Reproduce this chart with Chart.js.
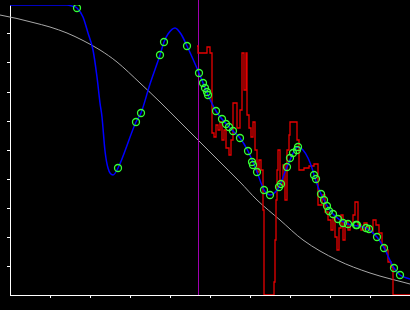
<!DOCTYPE html>
<html>
<head>
<meta charset="utf-8">
<title>Signal fit</title>
<script src="https://cdn.jsdelivr.net/npm/chart.js@4/dist/chart.umd.min.js"></script>
<style>
    html, body { margin: 0; padding: 0; background: #000; }
    #fitChart { display: block; background: #000; }
</style>
</head>
<body>
<canvas id="fitChart" width="410" height="310"></canvas>
<script>
/**
 * 数据
 */

// 拟合曲线（蓝色）
const fitX = [0, 1.425, 1.55, 1.675, 1.825, 1.95, 2.075, 2.175, 2.25, 2.3, 2.375, 2.45, 2.575, 2.7,
    3.15, 3.275, 3.5, 3.75, 3.85, 3.95, 4.125, 4.275, 4.425, 4.725, 4.95, 5.15, 5.575, 5.75, 5.95,
    6.175, 6.35, 6.5, 6.725, 6.925, 7.2, 7.325, 7.45, 7.55, 7.6, 7.775, 8.075, 8.45, 8.9, 9.175,
    9.35, 9.6, 9.75, 10];
const fitY = [10, 10, 9.966, 9.897, 9.586, 9.034, 8.448, 7.517, 6.621, 6.138, 4.966, 4.379, 4.138, 4.379,
    5.966, 6.276, 7.276, 8.276, 8.724, 9.0, 9.207, 9.0, 8.586, 7.655, 6.897, 6.345, 5.655, 5.414, 4.966,
    4.241, 3.621, 3.448, 3.724, 4.414, 5.103, 5.0, 4.724, 4.379, 4.138, 3.483, 2.793, 2.448, 2.310, 2.0,
    1.621, 0.931, 0.690, 0.552];

// 采样点（绿色圆圈）
const sampleX = [1.675, 2.7, 3.15, 3.275, 3.75, 3.85, 4.425, 4.725, 4.825, 4.875, 4.925, 4.95, 5.15,
    5.3, 5.4, 5.475, 5.575, 5.75, 5.95, 6.05, 6.075, 6.175, 6.35, 6.5, 6.725, 6.775, 6.925, 7.0, 7.075,
    7.175, 7.2, 7.6, 7.65, 7.775, 7.85, 7.925, 7.975, 8.075, 8.2, 8.325, 8.45, 8.65, 8.675, 8.9, 8.975,
    9.175, 9.35, 9.6, 9.75];
const sampleY = [9.897, 4.379, 5.966, 6.276, 8.276, 8.724, 8.586, 7.655, 7.31, 7.138, 7.0, 6.897, 6.345,
    6.069, 5.897, 5.793, 5.655, 5.414, 4.966, 4.586, 4.483, 4.241, 3.621, 3.448, 3.724, 3.828, 4.414, 4.724,
    4.897, 5.0, 5.103, 4.138, 4.0, 3.483, 3.276, 3.069, 2.897, 2.793, 2.621, 2.483, 2.448, 2.414, 2.414,
    2.31, 2.276, 2.0, 1.621, 0.931, 0.69];

// 测量信号（红色阶梯）
const signalX = [4.675, 4.7, 4.925, 5.0, 5.05, 5.1, 5.15, 5.2, 5.25, 5.3, 5.35, 5.4, 5.475, 5.525, 5.575,
    5.675, 5.75, 5.8, 5.85, 5.9, 5.925, 5.975, 6.025, 6.075, 6.125, 6.175, 6.225, 6.275, 6.325, 6.35,
    6.6, 6.625, 6.65, 6.675, 6.7, 6.75, 6.825, 6.875, 6.925, 6.975, 7.0, 7.175, 7.225, 7.35, 7.475, 7.6,
    7.7, 7.8, 7.875, 7.95, 8.025, 8.075, 8.125, 8.175, 8.225, 8.275, 8.325, 8.375, 8.45, 8.5, 8.575,
    8.625, 8.7, 8.775, 8.85, 8.925, 9.0, 9.075, 9.15, 9.225, 9.3, 9.375, 9.45, 9.525, 9.575, 10];
const signalY = [8.586, 8.345, 8.552, 8.345, 5.586, 5.448, 5.862, 5.69, 5.966, 5.345, 5.69, 5.069, 4.828,
    5.345, 6.621, 5.759, 6.379, 8.345, 7.069, 8.345, 6.207, 5.759, 5.448, 5.966, 5.0, 4.241, 4.655, 4.31,
    2.931, 0, 0.448, 1.897, 3.276, 4.31, 5.0, 3.793, 4.483, 3.276, 5.0, 5.517, 5.966, 5.345, 4.31, 4.379,
    4.448, 4.517, 3.103, 3.448, 2.862, 2.586, 2.241, 2.655, 2.0, 1.552, 2.31, 2.759, 1.897, 2.517, 2.241,
    2.414, 2.759, 3.207, 2.414, 2.241, 2.483, 2.31, 2.172, 2.586, 2.414, 2.138, 1.724, 1.552, 1.138, 0.966,
    0, 0];

// 参考曲线（灰色）
const refX = [-0.25, 0.175, 0.575, 1.0, 1.425, 1.825, 2.25, 2.675, 3.25, 3.75, 4.25, 4.7, 5.25, 5.75,
    6.175, 6.75, 7.325, 8.175, 9.0, 10];
const refY = [9.655, 9.534, 9.397, 9.241, 9.034, 8.776, 8.448, 8.034, 7.31, 6.655, 5.966, 5.345, 4.586,
    3.897, 3.276, 2.586, 1.897, 1.207, 0.759, 0.379];

// 标记位置（紫色竖线）
const markerX = 4.7125;
const markerSpan = [0, 10.2];

/**
 * 把两个数组合成 {x, y} 点
 */
function toPoints(xs, ys) {
    return xs.map((x, i) => ({ x: x, y: ys[i] }));
}

/**
 * 坐标轴：只画刻度线，不画标签，0 和 10 不画刻度
 */
function axisOptions() {
    return {
        type: 'linear',
        min: 0,
        max: 10,
        ticks: { display: false, stepSize: 1 },
        grid: {
            drawOnChartArea: false,
            drawTicks: true,
            tickLength: 3,
            lineWidth: 1,
            color: ctx => (ctx.tick && (ctx.tick.value === 0 || ctx.tick.value === 10)) ? 'rgba(0,0,0,0)' : '#ffffff'
        },
        border: { display: true, color: '#ffffff', width: 1 }
    };
}

const ctx = document.getElementById('fitChart');

const fitChart = new Chart(ctx, {
    type: 'scatter',
    data: {
        datasets: [
            {
                label: 'samples',
                data: toPoints(sampleX, sampleY),
                showLine: false,
                pointStyle: 'circle',
                pointRadius: 3.5,
                pointBorderWidth: 1.3,
                pointBorderColor: '#33ff33',
                pointBackgroundColor: 'rgba(0,0,0,0)'
            },
            {
                label: 'fit',
                data: toPoints(fitX, fitY),
                showLine: true,
                borderColor: '#0000ff',
                borderWidth: 1.5,
                pointRadius: 0,
                cubicInterpolationMode: 'monotone'
            },
            {
                label: 'signal',
                data: toPoints(signalX, signalY),
                showLine: true,
                stepped: true,
                borderColor: '#e60000',
                borderWidth: 1.3,
                pointRadius: 0
            },
            {
                label: 'marker',
                data: toPoints([markerX, markerX], markerSpan),
                showLine: true,
                borderColor: '#a000b0',
                borderWidth: 1,
                pointRadius: 0,
                clip: false
            },
            {
                label: 'reference',
                data: toPoints(refX, refY),
                showLine: true,
                borderColor: '#a8a8a8',
                borderWidth: 1,
                pointRadius: 0,
                cubicInterpolationMode: 'monotone',
                clip: false
            }
        ]
    },
    options: {
        responsive: false,
        animation: false,
        layout: { autoPadding: false, padding: { left: 7, right: 0, top: 5, bottom: 12 } },
        plugins: {
            legend: { display: false },
            tooltip: { enabled: false }
        },
        scales: {
            x: axisOptions(),
            y: axisOptions()
        }
    }
});
</script>
</body>
</html>
